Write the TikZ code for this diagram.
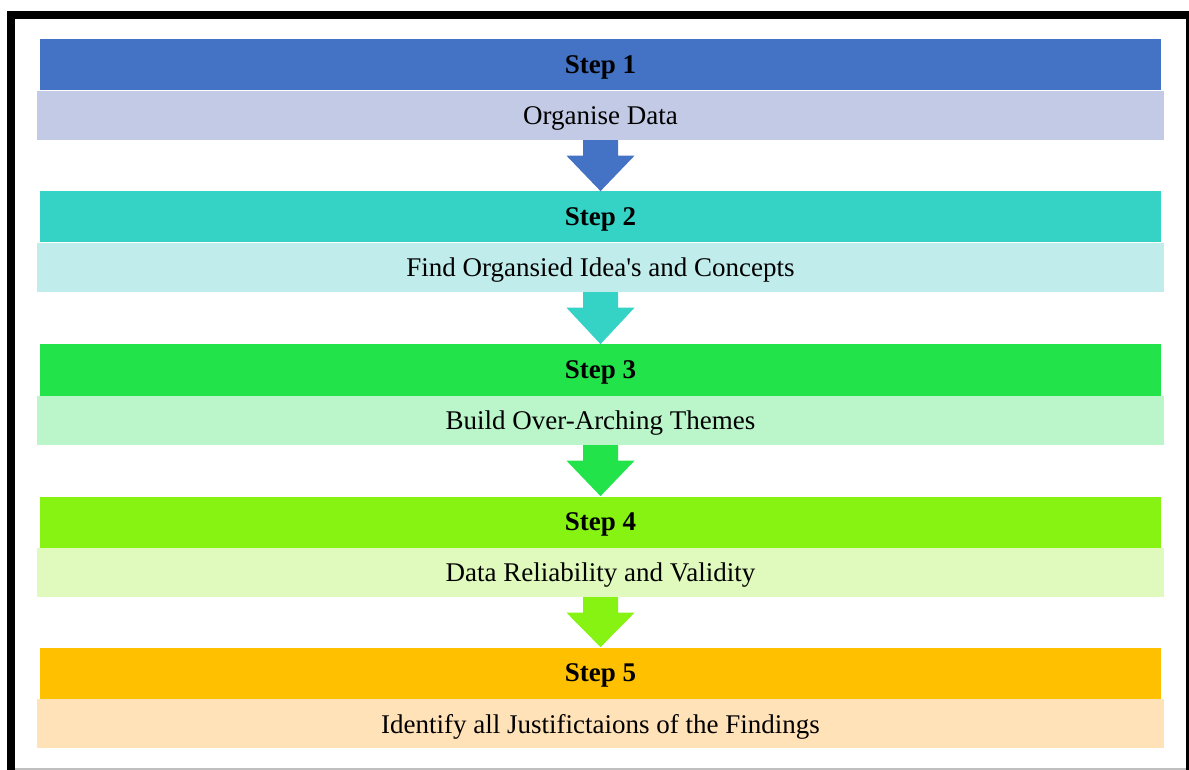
\documentclass[tikz,border=0pt]{standalone}
\usepackage{fontspec}
\setmainfont{Liberation Serif}[Ligatures=TeXOff]
\usepackage{xcolor}
\usepackage{tikz}
\usetikzlibrary{positioning, calc}
\definecolor{headA}{HTML}{4472C4}
\definecolor{bandA}{HTML}{C2CAE6}
\definecolor{headB}{HTML}{35D3C6}
\definecolor{bandB}{HTML}{C0ECEB}
\definecolor{headC}{HTML}{23E34B}
\definecolor{bandC}{HTML}{BBF5CA}
\definecolor{headD}{HTML}{86F312}
\definecolor{bandD}{HTML}{E0FABD}
\definecolor{headE}{HTML}{FFC000}
\definecolor{bandE}{HTML}{FFE2B7}
% block arrow from the bottom of one band to the top of the next header
\newcommand{\steparrow}[3]{%
  \fill[#3] ($(#1.south)+(-17.5,0)$) -- ($(#1.south)+(17.5,0)$)
    -- ($(#1.south)+(17.5,15.5)$) -- ($(#1.south)+(34,15.5)$)
    -- (#2.north)
    -- ($(#1.south)+(-34,15.5)$) -- ($(#1.south)+(-17.5,15.5)$) -- cycle;}

\begin{document}
\begin{tikzpicture}[x=0.5pt,y=-0.5pt]
% Define styles
\tikzstyle{stephead} = [rectangle, inner sep=0pt, minimum width=560.5pt, minimum height=25.5pt, text centered, text depth=0pt, font=\fontsize{13.5}{16}\selectfont\bfseries]
\tikzstyle{stepband} = [rectangle, inner sep=0pt, minimum width=563.5pt, minimum height=24.25pt, text centered, text depth=0pt, font=\fontsize{13.5}{16}\selectfont]
% Frame
\useasboundingbox (0,0) rectangle (1189,770);
\fill[black] (7,11) rectangle (1189,19);
\fill[black] (7,11) rectangle (15,770);
\fill[black] (1186,19) rectangle (1188.5,770);
\fill[black!25] (15,768) rectangle (1186,770);
% Define nodes
\node[stephead, fill=headA] (head1) at (600.5,65) {Step 1};
\node[stepband, fill=bandA, below=0pt of head1] (band1) {Organise Data};
\node[stephead, fill=headB] (head2) at (600.5,217) {Step 2};
\node[stepband, fill=bandB, below=0pt of head2] (band2) {Find Organsied Idea's and Concepts};
\node[stephead, fill=headC] (head3) at (600.5,370) {Step 3};
\node[stepband, fill=bandC, below=0pt of head3] (band3) {Build Over-Arching Themes};
\node[stephead, fill=headD] (head4) at (600.5,522) {Step 4};
\node[stepband, fill=bandD, below=0pt of head4] (band4) {Data Reliability and Validity};
\node[stephead, fill=headE] (head5) at (600.5,673) {Step 5};
\node[stepband, fill=bandE, below=0pt of head5] (band5) {Identify all Justifictaions of the Findings};

% Connect the nodes
\steparrow{band1}{head2}{headA}
\steparrow{band2}{head3}{headB}
\steparrow{band3}{head4}{headC}
\steparrow{band4}{head5}{headD}

\end{tikzpicture}
\end{document}
